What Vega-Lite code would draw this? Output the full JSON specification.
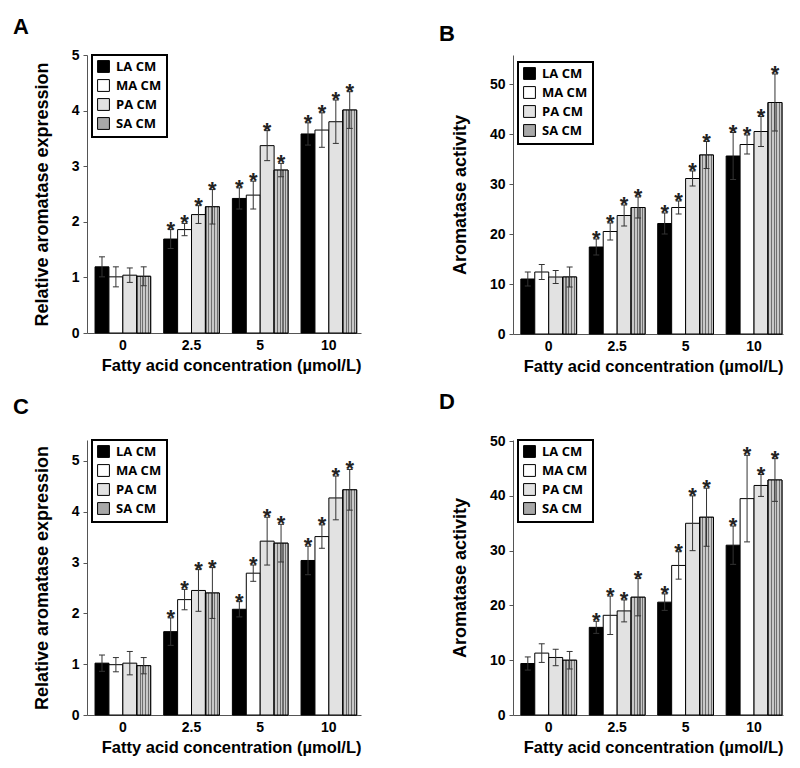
{
  "$schema": "https://vega.github.io/schema/vega-lite/v6.json",
  "background": "white",
  "padding": {"left": 13, "top": 16, "right": 5, "bottom": 5},
  "datasets": {
    "d": [
      {"p":"A","c":"0","fa":"LA CM","m":1.19,"lo":1.01,"hi":1.37,"s":""},
      {"p":"A","c":"0","fa":"MA CM","m":1.01,"lo":0.83,"hi":1.19,"s":""},
      {"p":"A","c":"0","fa":"PA CM","m":1.04,"lo":0.91,"hi":1.17,"s":""},
      {"p":"A","c":"0","fa":"SA CM","m":1.02,"lo":0.85,"hi":1.19,"s":""},
      {"p":"A","c":"2.5","fa":"LA CM","m":1.69,"lo":1.52,"hi":1.86,"s":"*"},
      {"p":"A","c":"2.5","fa":"MA CM","m":1.86,"lo":1.75,"hi":1.97,"s":"*"},
      {"p":"A","c":"2.5","fa":"PA CM","m":2.13,"lo":1.97,"hi":2.29,"s":"*"},
      {"p":"A","c":"2.5","fa":"SA CM","m":2.27,"lo":1.96,"hi":2.58,"s":"*"},
      {"p":"A","c":"5","fa":"LA CM","m":2.42,"lo":2.23,"hi":2.61,"s":"*"},
      {"p":"A","c":"5","fa":"MA CM","m":2.48,"lo":2.23,"hi":2.73,"s":"*"},
      {"p":"A","c":"5","fa":"PA CM","m":3.37,"lo":3.10,"hi":3.64,"s":"*"},
      {"p":"A","c":"5","fa":"SA CM","m":2.93,"lo":2.81,"hi":3.05,"s":"*"},
      {"p":"A","c":"10","fa":"LA CM","m":3.58,"lo":3.38,"hi":3.78,"s":"*"},
      {"p":"A","c":"10","fa":"MA CM","m":3.65,"lo":3.34,"hi":3.96,"s":"*"},
      {"p":"A","c":"10","fa":"PA CM","m":3.80,"lo":3.41,"hi":4.19,"s":"*"},
      {"p":"A","c":"10","fa":"SA CM","m":4.01,"lo":3.68,"hi":4.34,"s":"*"},
      {"p":"B","c":"0","fa":"LA CM","m":11.0,"lo":9.6,"hi":12.4,"s":""},
      {"p":"B","c":"0","fa":"MA CM","m":12.4,"lo":10.9,"hi":13.9,"s":""},
      {"p":"B","c":"0","fa":"PA CM","m":11.4,"lo":10.1,"hi":12.7,"s":""},
      {"p":"B","c":"0","fa":"SA CM","m":11.4,"lo":9.4,"hi":13.4,"s":""},
      {"p":"B","c":"2.5","fa":"LA CM","m":17.4,"lo":15.8,"hi":19.0,"s":"*"},
      {"p":"B","c":"2.5","fa":"MA CM","m":20.5,"lo":18.8,"hi":22.2,"s":"*"},
      {"p":"B","c":"2.5","fa":"PA CM","m":23.7,"lo":21.6,"hi":25.8,"s":"*"},
      {"p":"B","c":"2.5","fa":"SA CM","m":25.3,"lo":23.2,"hi":27.4,"s":"*"},
      {"p":"B","c":"5","fa":"LA CM","m":22.1,"lo":20.0,"hi":24.2,"s":"*"},
      {"p":"B","c":"5","fa":"MA CM","m":25.3,"lo":24.0,"hi":26.6,"s":"*"},
      {"p":"B","c":"5","fa":"PA CM","m":31.1,"lo":29.6,"hi":32.6,"s":"*"},
      {"p":"B","c":"5","fa":"SA CM","m":35.8,"lo":33.1,"hi":38.5,"s":"*"},
      {"p":"B","c":"10","fa":"LA CM","m":35.6,"lo":30.9,"hi":40.3,"s":"*"},
      {"p":"B","c":"10","fa":"MA CM","m":37.9,"lo":36.0,"hi":39.8,"s":"*"},
      {"p":"B","c":"10","fa":"PA CM","m":40.5,"lo":37.5,"hi":43.5,"s":"*"},
      {"p":"B","c":"10","fa":"SA CM","m":46.3,"lo":40.6,"hi":52.0,"s":"*"},
      {"p":"C","c":"0","fa":"LA CM","m":1.02,"lo":0.86,"hi":1.18,"s":""},
      {"p":"C","c":"0","fa":"MA CM","m":0.99,"lo":0.85,"hi":1.13,"s":""},
      {"p":"C","c":"0","fa":"PA CM","m":1.02,"lo":0.79,"hi":1.25,"s":""},
      {"p":"C","c":"0","fa":"SA CM","m":0.97,"lo":0.81,"hi":1.13,"s":""},
      {"p":"C","c":"2.5","fa":"LA CM","m":1.64,"lo":1.37,"hi":1.91,"s":"*"},
      {"p":"C","c":"2.5","fa":"MA CM","m":2.27,"lo":2.07,"hi":2.47,"s":"*"},
      {"p":"C","c":"2.5","fa":"PA CM","m":2.45,"lo":2.04,"hi":2.86,"s":"*"},
      {"p":"C","c":"2.5","fa":"SA CM","m":2.40,"lo":1.90,"hi":2.90,"s":"*"},
      {"p":"C","c":"5","fa":"LA CM","m":2.08,"lo":1.93,"hi":2.23,"s":"*"},
      {"p":"C","c":"5","fa":"MA CM","m":2.79,"lo":2.63,"hi":2.95,"s":"*"},
      {"p":"C","c":"5","fa":"PA CM","m":3.42,"lo":2.95,"hi":3.89,"s":"*"},
      {"p":"C","c":"5","fa":"SA CM","m":3.38,"lo":3.01,"hi":3.75,"s":"*"},
      {"p":"C","c":"10","fa":"LA CM","m":3.04,"lo":2.76,"hi":3.32,"s":"*"},
      {"p":"C","c":"10","fa":"MA CM","m":3.51,"lo":3.28,"hi":3.74,"s":"*"},
      {"p":"C","c":"10","fa":"PA CM","m":4.27,"lo":3.84,"hi":4.70,"s":"*"},
      {"p":"C","c":"10","fa":"SA CM","m":4.43,"lo":4.03,"hi":4.83,"s":"*"},
      {"p":"D","c":"0","fa":"LA CM","m":9.4,"lo":8.2,"hi":10.6,"s":""},
      {"p":"D","c":"0","fa":"MA CM","m":11.3,"lo":9.6,"hi":13.0,"s":""},
      {"p":"D","c":"0","fa":"PA CM","m":10.5,"lo":9.0,"hi":12.0,"s":""},
      {"p":"D","c":"0","fa":"SA CM","m":10.0,"lo":8.4,"hi":11.6,"s":""},
      {"p":"D","c":"2.5","fa":"LA CM","m":16.0,"lo":14.9,"hi":17.1,"s":"*"},
      {"p":"D","c":"2.5","fa":"MA CM","m":18.2,"lo":14.7,"hi":21.7,"s":"*"},
      {"p":"D","c":"2.5","fa":"PA CM","m":19.0,"lo":17.0,"hi":21.0,"s":"*"},
      {"p":"D","c":"2.5","fa":"SA CM","m":21.5,"lo":18.1,"hi":24.9,"s":"*"},
      {"p":"D","c":"5","fa":"LA CM","m":20.6,"lo":19.1,"hi":22.1,"s":"*"},
      {"p":"D","c":"5","fa":"MA CM","m":27.3,"lo":24.8,"hi":29.8,"s":"*"},
      {"p":"D","c":"5","fa":"PA CM","m":35.0,"lo":30.0,"hi":40.0,"s":"*"},
      {"p":"D","c":"5","fa":"SA CM","m":36.1,"lo":30.8,"hi":41.4,"s":"*"},
      {"p":"D","c":"10","fa":"LA CM","m":31.0,"lo":27.5,"hi":34.5,"s":"*"},
      {"p":"D","c":"10","fa":"MA CM","m":39.5,"lo":31.6,"hi":47.4,"s":"*"},
      {"p":"D","c":"10","fa":"PA CM","m":41.9,"lo":39.9,"hi":43.9,"s":"*"},
      {"p":"D","c":"10","fa":"SA CM","m":42.9,"lo":39.0,"hi":46.8,"s":"*"}
    ]
  },
  "data": {"name": "d"},
  "columns": 2,
  "bounds": "flush",
  "spacing": {"row": 106, "column": 152},
  "resolve": {"scale": {"x": "independent", "y": "independent", "fill": "independent", "xOffset": "independent"}, "legend": {"fill": "independent"}, "axis": {"x": "independent", "y": "independent"}},
  "concat": [
    {
      "title": {"text": "A", "anchor": "start", "frame": "group", "dx": -74, "offset": 9},
      "width": 274, "height": 278,
      "transform": [{"filter": "datum.p == 'A'"}],
      "encoding": {
        "x": {"field": "c", "type": "ordinal", "sort": ["0","2.5","5","10"], "scale": {"paddingInner": 0.19, "paddingOuter": 0.09, "align": 0.65}, "axis": {"title": "Fatty acid concentration (µmol/L)"}},
        "xOffset": {"field": "fa", "type": "nominal", "sort": ["LA CM","MA CM","PA CM","SA CM"], "scale": {"paddingInner": 0, "paddingOuter": 0}}
      },
      "layer": [
        {"mark": {"type": "bar", "stroke": "black", "strokeWidth": 1},
         "encoding": {
           "y": {"field": "m", "type": "quantitative", "scale": {"domain": [0, 5], "nice": false}, "axis": {"values": [0,1,2,3,4,5], "title": "Relative aromatase expression"}},
           "fill": {"field": "fa", "type": "nominal", "sort": ["LA CM","MA CM","PA CM","SA CM"], "scale": {"domain": ["LA CM","MA CM","PA CM","SA CM"], "range": ["#000000", "#ffffff", "#e2e2e2", "#a8a8a8"]},
             "legend": {"orient": "none", "legendX": 5, "legendY": 0}}
         }},
        {"transform": [{"filter": "datum.fa == 'SA CM'"}],
         "mark": {"type": "bar", "stroke": "black", "strokeWidth": 1, "fill": {"gradient": "linear", "x1": 0, "y1": 0, "x2": 1, "y2": 0, "stops": [{"offset":0,"color":"#6e6e6e"},{"offset":0.08,"color":"#6e6e6e"},{"offset":0.08,"color":"#c8c8c8"},{"offset":0.2,"color":"#c8c8c8"},{"offset":0.2,"color":"#6e6e6e"},{"offset":0.28,"color":"#6e6e6e"},{"offset":0.28,"color":"#c8c8c8"},{"offset":0.4,"color":"#c8c8c8"},{"offset":0.4,"color":"#6e6e6e"},{"offset":0.48,"color":"#6e6e6e"},{"offset":0.48,"color":"#c8c8c8"},{"offset":0.6,"color":"#c8c8c8"},{"offset":0.6,"color":"#6e6e6e"},{"offset":0.68,"color":"#6e6e6e"},{"offset":0.68,"color":"#c8c8c8"},{"offset":0.8,"color":"#c8c8c8"},{"offset":0.8,"color":"#6e6e6e"},{"offset":0.88,"color":"#6e6e6e"},{"offset":0.88,"color":"#c8c8c8"},{"offset":1,"color":"#c8c8c8"}]}},
         "encoding": {"y": {"field": "m", "type": "quantitative"}}},
        {"mark": {"type": "rule", "color": "#333333", "strokeWidth": 1}, "encoding": {"y": {"field": "lo", "type": "quantitative"}, "y2": {"field": "hi"}}},
        {"mark": {"type": "tick", "size": 6, "thickness": 1, "color": "#333333", "opacity": 1}, "encoding": {"y": {"field": "hi", "type": "quantitative"}}},
        {"mark": {"type": "tick", "size": 6, "thickness": 1, "color": "#333333", "opacity": 1}, "encoding": {"y": {"field": "lo", "type": "quantitative"}}},
        {"mark": {"type": "text", "font": "Liberation Sans", "fontSize": 22, "fontWeight": "bold", "baseline": "alphabetic", "dy": 7, "color": "#222222"}, "encoding": {"y": {"field": "hi", "type": "quantitative"}, "text": {"field": "s"}}}
      ]
    },
    {
      "title": {"text": "B", "anchor": "start", "frame": "group", "dx": -74, "offset": 9},
      "width": 270, "height": 279,
      "transform": [{"filter": "datum.p == 'B'"}],
      "encoding": {
        "x": {"field": "c", "type": "ordinal", "sort": ["0","2.5","5","10"], "scale": {"paddingInner": 0.185, "paddingOuter": 0.065, "align": 0.88}, "axis": {"title": "Fatty acid concentration (µmol/L)"}},
        "xOffset": {"field": "fa", "type": "nominal", "sort": ["LA CM","MA CM","PA CM","SA CM"], "scale": {"paddingInner": 0, "paddingOuter": 0}}
      },
      "layer": [
        {"mark": {"type": "bar", "stroke": "black", "strokeWidth": 1},
         "encoding": {
           "y": {"field": "m", "type": "quantitative", "scale": {"domain": [0, 55.8], "nice": false}, "axis": {"values": [0,10,20,30,40,50], "title": "Aromatase activity"}},
           "fill": {"field": "fa", "type": "nominal", "sort": ["LA CM","MA CM","PA CM","SA CM"], "scale": {"domain": ["LA CM","MA CM","PA CM","SA CM"], "range": ["#000000", "#ffffff", "#e2e2e2", "#a8a8a8"]},
             "legend": {"orient": "none", "legendX": 5, "legendY": 7}}
         }},
        {"transform": [{"filter": "datum.fa == 'SA CM'"}],
         "mark": {"type": "bar", "stroke": "black", "strokeWidth": 1, "fill": {"gradient": "linear", "x1": 0, "y1": 0, "x2": 1, "y2": 0, "stops": [{"offset":0,"color":"#6e6e6e"},{"offset":0.08,"color":"#6e6e6e"},{"offset":0.08,"color":"#c8c8c8"},{"offset":0.2,"color":"#c8c8c8"},{"offset":0.2,"color":"#6e6e6e"},{"offset":0.28,"color":"#6e6e6e"},{"offset":0.28,"color":"#c8c8c8"},{"offset":0.4,"color":"#c8c8c8"},{"offset":0.4,"color":"#6e6e6e"},{"offset":0.48,"color":"#6e6e6e"},{"offset":0.48,"color":"#c8c8c8"},{"offset":0.6,"color":"#c8c8c8"},{"offset":0.6,"color":"#6e6e6e"},{"offset":0.68,"color":"#6e6e6e"},{"offset":0.68,"color":"#c8c8c8"},{"offset":0.8,"color":"#c8c8c8"},{"offset":0.8,"color":"#6e6e6e"},{"offset":0.88,"color":"#6e6e6e"},{"offset":0.88,"color":"#c8c8c8"},{"offset":1,"color":"#c8c8c8"}]}},
         "encoding": {"y": {"field": "m", "type": "quantitative"}}},
        {"mark": {"type": "rule", "color": "#333333", "strokeWidth": 1}, "encoding": {"y": {"field": "lo", "type": "quantitative"}, "y2": {"field": "hi"}}},
        {"mark": {"type": "tick", "size": 6, "thickness": 1, "color": "#333333", "opacity": 1}, "encoding": {"y": {"field": "hi", "type": "quantitative"}}},
        {"mark": {"type": "tick", "size": 6, "thickness": 1, "color": "#333333", "opacity": 1}, "encoding": {"y": {"field": "lo", "type": "quantitative"}}},
        {"mark": {"type": "text", "font": "Liberation Sans", "fontSize": 22, "fontWeight": "bold", "baseline": "alphabetic", "dy": 7, "color": "#222222"}, "encoding": {"y": {"field": "hi", "type": "quantitative"}, "text": {"field": "s"}}}
      ]
    },
    {
      "title": {"text": "C", "anchor": "start", "frame": "group", "dx": -74, "offset": 20},
      "width": 274, "height": 275,
      "transform": [{"filter": "datum.p == 'C'"}],
      "encoding": {
        "x": {"field": "c", "type": "ordinal", "sort": ["0","2.5","5","10"], "scale": {"paddingInner": 0.19, "paddingOuter": 0.09, "align": 0.65}, "axis": {"title": "Fatty acid concentration (µmol/L)"}},
        "xOffset": {"field": "fa", "type": "nominal", "sort": ["LA CM","MA CM","PA CM","SA CM"], "scale": {"paddingInner": 0, "paddingOuter": 0}}
      },
      "layer": [
        {"mark": {"type": "bar", "stroke": "black", "strokeWidth": 1},
         "encoding": {
           "y": {"field": "m", "type": "quantitative", "scale": {"domain": [0, 5.41], "nice": false}, "axis": {"values": [0,1,2,3,4,5], "title": "Relative aromatase expression"}},
           "fill": {"field": "fa", "type": "nominal", "sort": ["LA CM","MA CM","PA CM","SA CM"], "scale": {"domain": ["LA CM","MA CM","PA CM","SA CM"], "range": ["#000000", "#ffffff", "#e2e2e2", "#a8a8a8"]},
             "legend": {"orient": "none", "legendX": 5, "legendY": 0}}
         }},
        {"transform": [{"filter": "datum.fa == 'SA CM'"}],
         "mark": {"type": "bar", "stroke": "black", "strokeWidth": 1, "fill": {"gradient": "linear", "x1": 0, "y1": 0, "x2": 1, "y2": 0, "stops": [{"offset":0,"color":"#6e6e6e"},{"offset":0.08,"color":"#6e6e6e"},{"offset":0.08,"color":"#c8c8c8"},{"offset":0.2,"color":"#c8c8c8"},{"offset":0.2,"color":"#6e6e6e"},{"offset":0.28,"color":"#6e6e6e"},{"offset":0.28,"color":"#c8c8c8"},{"offset":0.4,"color":"#c8c8c8"},{"offset":0.4,"color":"#6e6e6e"},{"offset":0.48,"color":"#6e6e6e"},{"offset":0.48,"color":"#c8c8c8"},{"offset":0.6,"color":"#c8c8c8"},{"offset":0.6,"color":"#6e6e6e"},{"offset":0.68,"color":"#6e6e6e"},{"offset":0.68,"color":"#c8c8c8"},{"offset":0.8,"color":"#c8c8c8"},{"offset":0.8,"color":"#6e6e6e"},{"offset":0.88,"color":"#6e6e6e"},{"offset":0.88,"color":"#c8c8c8"},{"offset":1,"color":"#c8c8c8"}]}},
         "encoding": {"y": {"field": "m", "type": "quantitative"}}},
        {"mark": {"type": "rule", "color": "#333333", "strokeWidth": 1}, "encoding": {"y": {"field": "lo", "type": "quantitative"}, "y2": {"field": "hi"}}},
        {"mark": {"type": "tick", "size": 6, "thickness": 1, "color": "#333333", "opacity": 1}, "encoding": {"y": {"field": "hi", "type": "quantitative"}}},
        {"mark": {"type": "tick", "size": 6, "thickness": 1, "color": "#333333", "opacity": 1}, "encoding": {"y": {"field": "lo", "type": "quantitative"}}},
        {"mark": {"type": "text", "font": "Liberation Sans", "fontSize": 22, "fontWeight": "bold", "baseline": "alphabetic", "dy": 7, "color": "#222222"}, "encoding": {"y": {"field": "hi", "type": "quantitative"}, "text": {"field": "s"}}}
      ]
    },
    {
      "title": {"text": "D", "anchor": "start", "frame": "group", "dx": -74, "offset": 20},
      "width": 270, "height": 275,
      "transform": [{"filter": "datum.p == 'D'"}],
      "encoding": {
        "x": {"field": "c", "type": "ordinal", "sort": ["0","2.5","5","10"], "scale": {"paddingInner": 0.185, "paddingOuter": 0.065, "align": 0.88}, "axis": {"title": "Fatty acid concentration (µmol/L)"}},
        "xOffset": {"field": "fa", "type": "nominal", "sort": ["LA CM","MA CM","PA CM","SA CM"], "scale": {"paddingInner": 0, "paddingOuter": 0}}
      },
      "layer": [
        {"mark": {"type": "bar", "stroke": "black", "strokeWidth": 1},
         "encoding": {
           "y": {"field": "m", "type": "quantitative", "scale": {"domain": [0, 50.2], "nice": false}, "axis": {"values": [0,10,20,30,40,50], "title": "Aromatase activity"}},
           "fill": {"field": "fa", "type": "nominal", "sort": ["LA CM","MA CM","PA CM","SA CM"], "scale": {"domain": ["LA CM","MA CM","PA CM","SA CM"], "range": ["#000000", "#ffffff", "#e2e2e2", "#a8a8a8"]},
             "legend": {"orient": "none", "legendX": 5, "legendY": 0}}
         }},
        {"transform": [{"filter": "datum.fa == 'SA CM'"}],
         "mark": {"type": "bar", "stroke": "black", "strokeWidth": 1, "fill": {"gradient": "linear", "x1": 0, "y1": 0, "x2": 1, "y2": 0, "stops": [{"offset":0,"color":"#6e6e6e"},{"offset":0.08,"color":"#6e6e6e"},{"offset":0.08,"color":"#c8c8c8"},{"offset":0.2,"color":"#c8c8c8"},{"offset":0.2,"color":"#6e6e6e"},{"offset":0.28,"color":"#6e6e6e"},{"offset":0.28,"color":"#c8c8c8"},{"offset":0.4,"color":"#c8c8c8"},{"offset":0.4,"color":"#6e6e6e"},{"offset":0.48,"color":"#6e6e6e"},{"offset":0.48,"color":"#c8c8c8"},{"offset":0.6,"color":"#c8c8c8"},{"offset":0.6,"color":"#6e6e6e"},{"offset":0.68,"color":"#6e6e6e"},{"offset":0.68,"color":"#c8c8c8"},{"offset":0.8,"color":"#c8c8c8"},{"offset":0.8,"color":"#6e6e6e"},{"offset":0.88,"color":"#6e6e6e"},{"offset":0.88,"color":"#c8c8c8"},{"offset":1,"color":"#c8c8c8"}]}},
         "encoding": {"y": {"field": "m", "type": "quantitative"}}},
        {"mark": {"type": "rule", "color": "#333333", "strokeWidth": 1}, "encoding": {"y": {"field": "lo", "type": "quantitative"}, "y2": {"field": "hi"}}},
        {"mark": {"type": "tick", "size": 6, "thickness": 1, "color": "#333333", "opacity": 1}, "encoding": {"y": {"field": "hi", "type": "quantitative"}}},
        {"mark": {"type": "tick", "size": 6, "thickness": 1, "color": "#333333", "opacity": 1}, "encoding": {"y": {"field": "lo", "type": "quantitative"}}},
        {"mark": {"type": "text", "font": "Liberation Sans", "fontSize": 22, "fontWeight": "bold", "baseline": "alphabetic", "dy": 7, "color": "#222222"}, "encoding": {"y": {"field": "hi", "type": "quantitative"}, "text": {"field": "s"}}}
      ]
    }
  ],
  "config": {
    "view": {"stroke": null},
    "title": {"font": "Liberation Sans", "fontSize": 22, "fontWeight": "bold", "color": "black", "baseline": "alphabetic"},
    "axis": {"grid": false, "domainColor": "#555555", "tickColor": "#555555", "labelFont": "Liberation Sans", "labelFontWeight": "bold", "labelFontSize": 14, "labelColor": "black", "titleFont": "Liberation Sans", "titleFontWeight": "bold", "titleFontSize": 18, "titleColor": "black"},
    "axisX": {"ticks": false, "labelAngle": 0, "labelPadding": 5, "titleAnchor": "end", "titlePadding": 5, "titleFontSize": 16.5},
    "axisY": {"tickSize": 4, "labelPadding": 4, "titlePadding": 20},
    "legend": {"title": null, "strokeColor": "black", "strokeWidth": 2, "padding": 5, "symbolType": "square", "symbolSize": 140, "symbolStrokeColor": "black", "symbolStrokeWidth": 1, "symbolOpacity": 1, "labelFont": "Open Sans", "labelFontWeight": "bold", "labelFontSize": 13, "labelColor": "black", "rowPadding": 2, "labelOffset": 6, "fillColor": "white"}
  }
}
